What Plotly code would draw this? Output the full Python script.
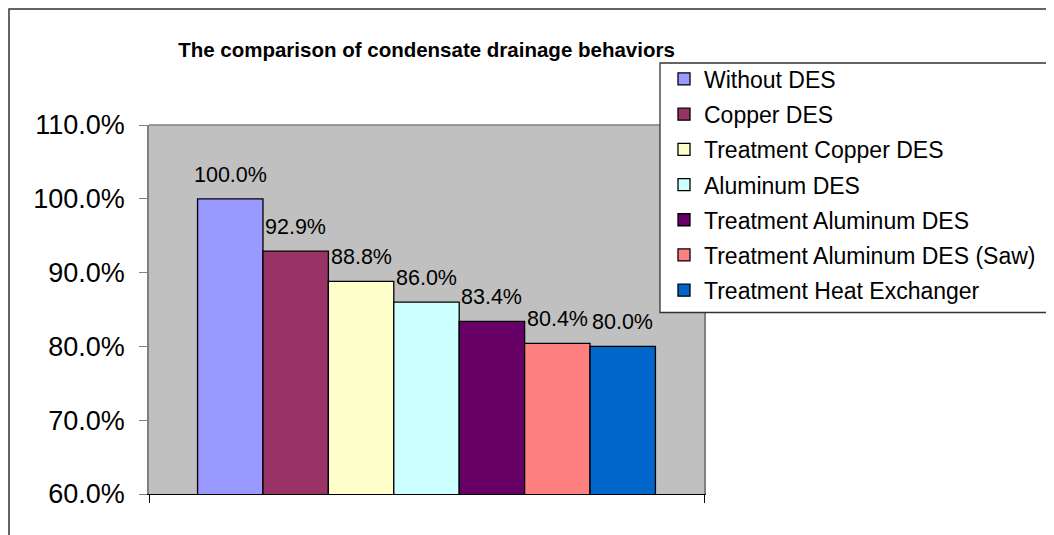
import plotly.graph_objects as go

series = ["Without DES", "Copper DES", "Treatment Copper DES", "Aluminum DES",
          "Treatment Aluminum DES", "Treatment Aluminum DES (Saw)", "Treatment Heat Exchanger"]
values = [100.0, 92.9, 88.8, 86.0, 83.4, 80.4, 80.0]
colors = ["#9999FF", "#993366", "#FFFFCC", "#CCFFFF", "#660066", "#FF8080", "#0066CC"]
title = "The comparison of condensate drainage behaviors"
y_ticks = [60, 70, 80, 90, 100, 110]

FONT = "Arial, 'Liberation Sans', sans-serif"
OFF = 8  # default page body margin
W, H = 1054 - OFF, 535 - OFF
# plot area in page px
PL, PR, PT, PB = 149, 704, 125, 494
L, R, T, B = PL - OFF, PR - OFF, PT - OFF, PB - OFF
GAP = 0.175  # group gap fraction

fig = go.Figure()
for i, (name, val, col) in enumerate(zip(series, values, colors)):
    fig.add_trace(go.Bar(
        x=[i], y=[val], width=1, name=name, legendgroup=name,
        marker=dict(color=col, line=dict(color="black", width=1.3)),
        hoverinfo="name+y",
    ))
    fig.add_annotation(x=i, y=val, xref="x", yref="y", text=f"{val:.1f}%",
                       showarrow=False, yanchor="bottom", yshift=10,
                       font=dict(family=FONT, size=21.5, color="black"))

n = len(series)
pw = R - L
bar_px = pw * (1 - GAP) / n
pad = (pw * GAP / 2) / bar_px
xlo, xhi = -0.5 - pad, n - 0.5 + pad

def px_x(page_px):
    return (page_px - PL) / (PR - PL)

def px_y(page_py):
    return (PB - page_py) / (PB - PT)

shapes = [
    dict(type="line", xref="paper", yref="paper", x0=0, x1=1, y0=1, y1=1,
         line=dict(color="#808080", width=1.5), layer="above"),
    dict(type="rect", xref="paper", yref="paper",
         x0=px_x(9), x1=px_x(1100), y0=px_y(600), y1=px_y(9),
         line=dict(color="#333333", width=1.5), fillcolor="rgba(0,0,0,0)", layer="above"),
    dict(type="rect", xref="paper", yref="paper",
         x0=px_x(660), x1=px_x(1100), y0=px_y(312.5), y1=px_y(63),
         line=dict(color="#333333", width=1.3), fillcolor="white", layer="above"),
]

fig.update_layout(
    width=W, height=H,
    margin=dict(l=L, r=W - R, t=T, b=H - B, pad=0),
    paper_bgcolor="white", plot_bgcolor="#C0C0C0",
    barmode="overlay",
    font=dict(family=FONT, color="black"),
    title=dict(text=f"<b>{title}</b>", x=((PL + PR) / 2 - OFF) / W, xanchor="center",
               y=1 - (50 - OFF) / H, yanchor="middle", yref="container",
               font=dict(family=FONT, size=20.5, color="black")),
    xaxis=dict(range=[xlo, xhi], tickmode="array", tickvals=[xlo, xhi], ticktext=["", ""],
               ticks="outside", ticklen=8, tickcolor="black", tickwidth=1,
               showline=True, linecolor="black", linewidth=1.3, showgrid=False,
               zeroline=False, fixedrange=True),
    yaxis=dict(range=[y_ticks[0], y_ticks[-1]], tickvals=y_ticks,
               ticktext=[f"{v:.1f}%" for v in y_ticks],
               ticks="outside", ticklen=8, tickcolor="#808080", tickwidth=1.3,
               showline=True, linecolor="#808080", linewidth=1.5, mirror=True,
               showgrid=False, zeroline=False,
               tickfont=dict(family=FONT, size=27, color="black"),
               ticklabelstandoff=9),
    legend=dict(x=px_x(664), xanchor="left", y=px_y(57.5), yanchor="top",
                bgcolor="rgba(0,0,0,0)", borderwidth=0, traceorder="grouped",
                tracegroupgap=2.3, font=dict(family=FONT, size=23, color="black")),
    shapes=shapes,
    showlegend=True,
)

fig.write_html("out.html")
